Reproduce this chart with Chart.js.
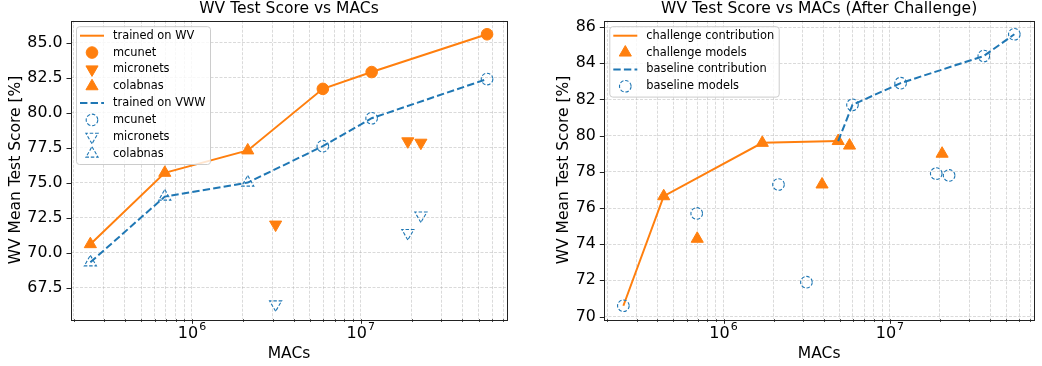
<!DOCTYPE html>
<html>
<head>
<meta charset="utf-8">
<script src="https://cdn.jsdelivr.net/npm/chart.js@4.4.1/dist/chart.umd.min.js"></script>
<style>
  html, body { margin: 0; padding: 0; background: #fff; }
  #wrap { position: relative; width: 1042px; height: 366px; }
  #left { position: absolute; left: 0; top: 0; }
  #right { position: absolute; left: 520px; top: 0; }
</style>
</head>
<body>
<div id="wrap">
  <canvas id="left" width="520" height="366"></canvas>
  <canvas id="right" width="522" height="366"></canvas>
</div>
<script>
// ---- datos: grafica izquierda (MACs por familia de modelos)
var mcunetMacs    = [5.96e6, 1.16e7, 5.6e7];
var micronetsMacs = [3.13e6, 1.9e7, 2.27e7];
var colabnasMacs  = [2.5e5, 6.9e5, 2.14e6];

var wvMcunet    = [81.7, 82.9, 85.6];
var wvMicronets = [72.0, 77.95, 77.85];
var wvColabnas  = [70.6, 75.7, 77.3];

var vwwMcunet    = [77.6, 79.6, 82.4];
var vwwMicronets = [66.3, 71.4, 72.65];
var vwwColabnas  = [69.3, 74.0, 75.0];

// ---- datos: grafica derecha (after challenge)
var challengeMacs  = [4.37e5, 6.95e5, 1.71e6, 3.91e6, 4.89e6, 5.72e6, 2.06e7];
var challengeScore = [76.65, 74.3, 79.6, 77.3, 79.7, 79.45, 79.0];

var baselineMacs  = [2.5e5, 6.9e5, 2.14e6, 3.15e6, 5.96e6, 1.16e7, 1.9e7, 2.27e7, 3.67e7, 5.6e7];
var baselineScore = [70.6, 75.7, 77.3, 71.9, 81.7, 82.9, 77.9, 77.8, 84.4, 85.6];

var challengeFrontMacs  = [2.5e5, 4.37e5, 1.71e6, 4.89e6];
var challengeFrontScore = [70.6, 76.65, 79.6, 79.7];
var baselineFrontMacs  = [4.89e6, 5.96e6, 1.16e7, 3.67e7, 5.6e7];
var baselineFrontScore = [79.7, 81.7, 82.9, 84.4, 85.6];

// ---- ticks
var xTickMantissas = [1, 2, 3, 4, 5, 6, 7, 8, 9];
var xTickDecades = [1e5, 1e6, 1e7];
var xTickLabels = { 1000000: ['10', '6'], 10000000: ['10', '7'] };
var leftYTicks = [67.5, 70.0, 72.5, 75.0, 77.5, 80.0, 82.5, 85.0];
var rightYTicks = [70, 72, 74, 76, 78, 80, 82, 84, 86];

var xMin = 1.92e5, xMax = 7.35e7;

var ORANGE = '#ff7f0e';
var BLUE = '#1f77b4';
var FONT = '"DejaVu Sans", sans-serif';
var gridColor = 'rgba(176,176,176,0.6)';

var xTickValues = [];
xTickDecades.forEach(function (d) {
    xTickMantissas.forEach(function (m) {
        var v = Math.round(m * d);
        if (v >= xMin && v <= xMax) xTickValues.push(v);
    });
});

function pts(xs, ys) {
    return xs.map(function (x, i) { return { x: x, y: ys[i] }; });
}

function lineDs(label, xs, ys, color, dash) {
    return {
        label: label, data: pts(xs, ys), showLine: true,
        borderColor: color, borderWidth: 2, borderDash: dash || [],
        pointRadius: 0, pointHoverRadius: 0
    };
}

function markerDs(label, xs, ys, color, style, rot, hollow) {
    return {
        label: label, data: pts(xs, ys), showLine: false,
        pointStyle: style, pointRotation: rot,
        pointRadius: style === 'circle' ? 5.8 : 7,
        pointBackgroundColor: hollow ? 'rgba(0,0,0,0)' : color,
        pointBorderColor: color,
        pointBorderWidth: hollow ? 1.1 : 1,
        markerDash: hollow ? [3.5, 1.8] : null
    };
}

// ordenar por MACs para trazar la linea
function sortedLine(xs, ys) {
    var p = xs.map(function (x, i) { return [x, ys[i]]; }).sort(function (a, b) { return a[0] - b[0]; });
    return [p.map(function (q) { return q[0]; }), p.map(function (q) { return q[1]; })];
}

var wvLine = sortedLine(colabnasMacs.concat(mcunetMacs), wvColabnas.concat(wvMcunet));
var vwwLine = sortedLine(colabnasMacs.concat(mcunetMacs), vwwColabnas.concat(vwwMcunet));

// plugin: marco, marcas de ticks, etiquetas 10^n, bordes punteados y leyenda
var framePlugin = {
    id: 'frame',
    beforeDatasetDraw: function (chart, args) {
        var ds = chart.data.datasets[args.index];
        if (ds.markerDash) chart.ctx.setLineDash(ds.markerDash);
    },
    afterDatasetDraw: function (chart) {
        chart.ctx.setLineDash([]);
    },
    afterDatasetsDraw: function (chart) {
        var ctx = chart.ctx, a = chart.chartArea;
        var sx = chart.scales.x, sy = chart.scales.y;
        ctx.save();
        ctx.strokeStyle = '#222';
        ctx.lineWidth = 1;
        ctx.beginPath();
        sx.ticks.forEach(function (t) {
            var px = Math.round(sx.getPixelForValue(t.value)) + 0.5;
            var len = xTickLabels[t.value] ? 4.5 : 2.5;
            ctx.moveTo(px, a.bottom); ctx.lineTo(px, a.bottom + len);
        });
        sy.ticks.forEach(function (t) {
            var py = Math.round(sy.getPixelForValue(t.value)) + 0.5;
            ctx.moveTo(a.left, py); ctx.lineTo(a.left - 4.5, py);
        });
        ctx.stroke();
        ctx.strokeRect(Math.round(a.left) + 0.5, Math.round(a.top) + 0.5,
            Math.round(a.right - a.left), Math.round(a.bottom - a.top));

        // etiquetas 10^6, 10^7 con exponente
        ctx.fillStyle = '#000';
        ctx.textBaseline = 'alphabetic';
        ctx.textAlign = 'left';
        sx.ticks.forEach(function (t) {
            var lab = xTickLabels[t.value];
            if (!lab) return;
            var px = sx.getPixelForValue(t.value);
            ctx.font = '16px ' + FONT;
            var wb = ctx.measureText(lab[0]).width;
            ctx.font = '11px ' + FONT;
            var we = ctx.measureText(lab[1]).width;
            var x0 = px - (wb + we + 1) / 2;
            ctx.font = '16px ' + FONT;
            ctx.fillText(lab[0], x0, a.bottom + 19);
            ctx.font = '11px ' + FONT;
            ctx.fillText(lab[1], x0 + wb + 1, a.bottom + 11);
        });
        ctx.restore();
        drawLegend(chart);
    }
};

function drawLegend(chart) {
    var ctx = chart.ctx, a = chart.chartArea;
    var items = chart.data.datasets;
    var rowH = 16.85;
    ctx.save();
    ctx.font = '11.4px ' + FONT;
    var textW = Math.max.apply(null, items.map(function (d) { return ctx.measureText(d.label).width; }));
    var bx = a.left + 5.5, by = a.top + 6;
    var bw = 36.5 + textW + 5, bh = items.length * rowH + 3;
    ctx.beginPath();
    ctx.roundRect(bx, by, bw, bh, 3);
    ctx.fillStyle = 'rgba(255,255,255,0.8)';
    ctx.fill();
    ctx.strokeStyle = '#cccccc';
    ctx.lineWidth = 1;
    ctx.stroke();
    items.forEach(function (d, i) {
        var cy = by + 9 + i * rowH;
        if (d.showLine) {
            ctx.strokeStyle = d.borderColor;
            ctx.lineWidth = d.borderWidth;
            ctx.setLineDash(d.borderDash || []);
            ctx.beginPath();
            ctx.moveTo(bx + 3.5, cy);
            ctx.lineTo(bx + 27.5, cy);
            ctx.stroke();
        } else {
            ctx.setLineDash(d.markerDash || []);
            ctx.fillStyle = d.pointBackgroundColor;
            ctx.strokeStyle = d.pointBorderColor;
            ctx.lineWidth = d.pointBorderWidth;
            Chart.helpers.drawPoint(ctx, {
                pointStyle: d.pointStyle, rotation: d.pointRotation || 0,
                radius: d.pointRadius, borderWidth: d.pointBorderWidth
            }, bx + 15.5, cy);
        }
        ctx.setLineDash([]);
        ctx.fillStyle = '#000';
        ctx.textBaseline = 'middle';
        ctx.textAlign = 'left';
        ctx.fillText(d.label, bx + 36.5, cy);
    });
    ctx.restore();
}

function makeChart(id, title, datasets, yMin, yMax, yTicks, yFmt, yWidth, yTitlePad, padRight) {
    datasets.forEach(function (d, i) { d.order = -i; });
    return new Chart(document.getElementById(id).getContext('2d'), {
        type: 'scatter',
        data: { datasets: datasets },
        plugins: [framePlugin],
        options: {
            responsive: false,
            animation: false,
            devicePixelRatio: 1,
            layout: { padding: { left: 0, right: padRight, top: 0, bottom: 0 } },
            plugins: {
                legend: { display: false },
                tooltip: { enabled: false },
                title: {
                    display: true, text: title, fullSize: false, color: '#000',
                    font: { family: FONT, size: 15.5, weight: 'normal' },
                    padding: { top: 0, bottom: 2.1 }
                }
            },
            scales: {
                x: {
                    type: 'logarithmic', min: xMin, max: xMax,
                    afterBuildTicks: function (s) {
                        s.ticks = xTickValues.map(function (v) { return { value: v }; });
                    },
                    ticks: {
                        autoSkip: false, maxRotation: 0, minRotation: 0, padding: 0,
                        font: { family: FONT, size: 15 },
                        callback: function () { return ''; }
                    },
                    grid: { color: gridColor, lineWidth: 0.8, drawTicks: true, tickLength: 5, tickColor: 'rgba(0,0,0,0)' },
                    border: { display: false, dash: [3, 1.5] },
                    title: {
                        display: true, text: 'MACs', color: '#000',
                        font: { family: FONT, size: 15.5 }, padding: { top: 0, bottom: 3.2 }
                    },
                    afterFit: function (s) { s.height = 46.7; }
                },
                y: {
                    min: yMin, max: yMax,
                    afterBuildTicks: function (s) {
                        s.ticks = yTicks.map(function (v) { return { value: v }; });
                    },
                    ticks: {
                        padding: 3.5, color: '#000', font: { family: FONT, size: 15.8 },
                        callback: yFmt
                    },
                    grid: { color: gridColor, lineWidth: 0.8, drawTicks: true, tickLength: 5, tickColor: 'rgba(0,0,0,0)' },
                    border: { display: false, dash: [3, 1.5] },
                    title: {
                        display: true, text: 'WV Mean Test Score [%]', color: '#000',
                        font: { family: FONT, size: 15.5 }, padding: { top: yTitlePad, bottom: 0 }
                    },
                    afterFit: function (s) { s.width = yWidth; }
                }
            }
        }
    });
}

makeChart('left', 'WV Test Score vs MACs', [
    lineDs('trained on WV', wvLine[0], wvLine[1], ORANGE),
    markerDs('mcunet', mcunetMacs, wvMcunet, ORANGE, 'circle', 0, false),
    markerDs('micronets', micronetsMacs, wvMicronets, ORANGE, 'triangle', 180, false),
    markerDs('colabnas', colabnasMacs, wvColabnas, ORANGE, 'triangle', 0, false),
    lineDs('trained on VWW', vwwLine[0], vwwLine[1], BLUE, [7.4, 3.2]),
    markerDs('mcunet', mcunetMacs, vwwMcunet, BLUE, 'circle', 0, true),
    markerDs('micronets', micronetsMacs, vwwMicronets, BLUE, 'triangle', 180, true),
    markerDs('colabnas', colabnasMacs, vwwColabnas, BLUE, 'triangle', 0, true)
], 65.23, 86.57, leftYTicks, function (v) { return v.toFixed(1); }, 71, 7, 13);

makeChart('right', 'WV Test Score vs MACs (After Challenge)', [
    lineDs('challenge contribution', challengeFrontMacs, challengeFrontScore, ORANGE),
    markerDs('challenge models', challengeMacs, challengeScore, ORANGE, 'triangle', 0, false),
    lineDs('baseline contribution', baselineFrontMacs, baselineFrontScore, BLUE, [7.4, 3.2]),
    markerDs('baseline models', baselineMacs, baselineScore, BLUE, 'circle', 0, true)
], 69.85, 86.35, rightYTicks, function (v) { return String(v); }, 84.3, 34.5, 1);
</script>
</body>
</html>
